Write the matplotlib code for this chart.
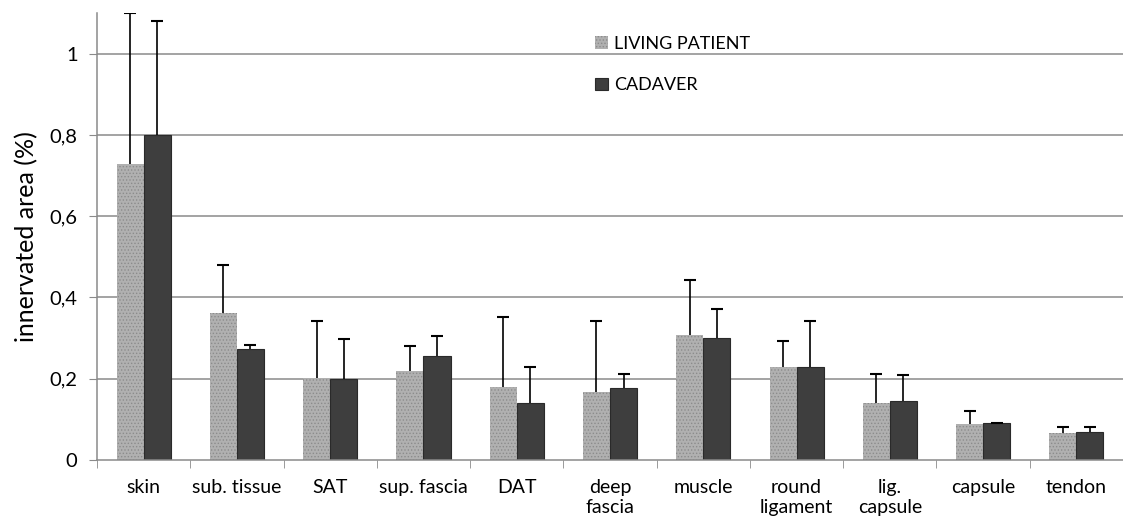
import numpy as np
import matplotlib
matplotlib.use("Agg")
import matplotlib.pyplot as plt
from matplotlib.patches import Patch
from matplotlib.ticker import FuncFormatter

plt.rcParams['font.family'] = ['Lato', 'DejaVu Sans']

categories = ["skin", "sub. tissue", "SAT", "sup. fascia", "DAT", "deep\nfascia",
              "muscle", "round\nligament", "lig.\ncapsule", "capsule", "tendon"]
living = [0.729, 0.361, 0.201, 0.220, 0.179, 0.168, 0.308, 0.228, 0.140, 0.089, 0.067]
living_top = [1.100, 0.481, 0.341, 0.281, 0.351, 0.341, 0.442, 0.292, 0.212, 0.121, 0.080]
cadaver = [0.800, 0.274, 0.200, 0.256, 0.140, 0.177, 0.300, 0.230, 0.145, 0.091, 0.070]
cadaver_top = [1.080, 0.284, 0.297, 0.305, 0.230, 0.211, 0.372, 0.342, 0.209, 0.092, 0.080]

living = np.array(living)
cadaver = np.array(cadaver)
living_err = np.array(living_top) - living
cadaver_err = np.array(cadaver_top) - cadaver

x = np.arange(len(categories))
w = 0.29

fig = plt.figure(figsize=(11.23, 5.23), dpi=100)
ax = fig.add_axes([0.0864, 0.1205, 0.9136, 0.8545])

grid_c = '#8a8a8a'
for yv in [0.2, 0.4, 0.6, 0.8, 1.0]:
    ax.axhline(yv, color=grid_c, lw=1.1, zorder=0)

plt.rcParams['hatch.linewidth'] = 0.6
ax.bar(x - w / 2, living, w, color='#b0b0b0', edgecolor='#8c8c8c', hatch='.....',
       linewidth=0, zorder=2)
ax.bar(x + w / 2, cadaver, w, color='#3e3e3e', edgecolor='#2a2a2a', linewidth=0.8, zorder=2)

# only the upper half of the error bars is drawn
for xs, vals, err in [(x - w / 2, living, living_err), (x + w / 2, cadaver, cadaver_err)]:
    _, caps, _ = ax.errorbar(xs, vals, yerr=[np.zeros_like(vals), err], fmt='none',
                             ecolor='black', elinewidth=1.2, capsize=4, capthick=1.5, zorder=3)
    caps[0].set_visible(False)

ax.set_xlim(-0.5, 10.46)
ax.set_ylim(0, 1.1)

ax.set_yticks([0, 0.2, 0.4, 0.6, 0.8, 1.0])
ax.yaxis.set_major_formatter(FuncFormatter(lambda v, p: ('%g' % round(v, 1)).replace('.', ',')))
ax.set_xticks(x)
ax.set_xticklabels(categories, fontsize=14, va='top', linespacing=1.15)
ax.set_xticks(np.arange(-0.5, 11, 1), minor=True)
ax.tick_params(axis='x', which='major', length=0, pad=14)
ax.tick_params(axis='x', which='minor', length=6, color=grid_c, direction='out')
ax.tick_params(axis='y', length=6, color=grid_c, labelsize=14.5, pad=8)

for s in ['top', 'right']:
    ax.spines[s].set_visible(False)
ax.spines['left'].set_color(grid_c)
ax.spines['bottom'].set_color(grid_c)
ax.spines['left'].set_linewidth(1.1)
ax.spines['bottom'].set_linewidth(1.1)

ax.set_ylabel("innervated area (%)", fontsize=18, labelpad=8)

handles = [Patch(facecolor='#b0b0b0', edgecolor='#8c8c8c', hatch='.....', linewidth=0),
           Patch(facecolor='#3e3e3e', edgecolor='#2a2a2a', linewidth=0.8)]
ax.legend(handles, ["LIVING PATIENT", "CADAVER"], loc='upper left',
          bbox_to_anchor=(0.47, 0.985), frameon=False, fontsize=13,
          handlelength=0.7, handleheight=0.7, handletextpad=0.35, labelspacing=1.4)

fig.savefig("out.png", dpi=100)
